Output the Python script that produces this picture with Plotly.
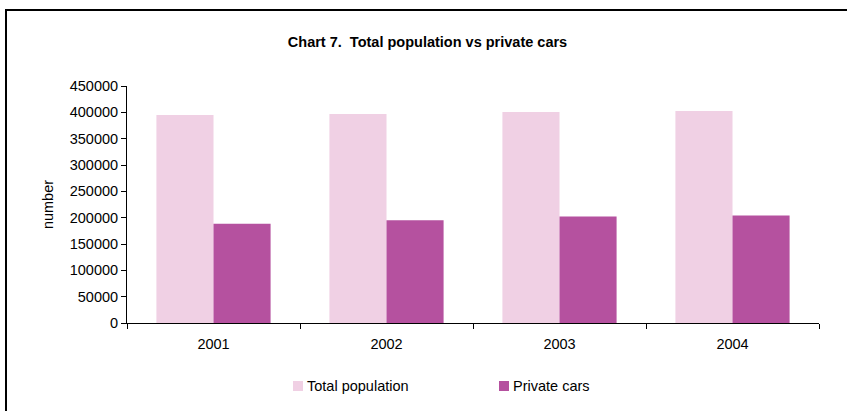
import plotly.graph_objects as go

years = ["2001", "2002", "2003", "2004"]
total_population = [395000, 397000, 400500, 402500]
private_cars = [188600, 194900, 202000, 204000]
y_ticks = [0, 50000, 100000, 150000, 200000, 250000, 300000, 350000, 400000, 450000]
series_names = ["Total population", "Private cars"]
series_colors = ["#F0D0E4", "#B5519F"]

FONT = "Liberation Sans, Arial, sans-serif"
FS = 14.5

fig = go.Figure()
fig.add_trace(go.Bar(x=years, y=total_population, name=series_names[0],
                     marker=dict(color=series_colors[0], line=dict(width=0))))
fig.add_trace(go.Bar(x=years, y=private_cars, name=series_names[1],
                     marker=dict(color=series_colors[1], line=dict(width=0))))

W, H = 847, 411
L, R, T, B = 127, 28, 86, 88
pw = W - L - R
ph = H - T - B

def px_x(px):
    return (px - L) / pw

def px_y(py):
    return (H - B - py) / ph

fig.update_layout(
    width=W, height=H,
    margin=dict(l=L, r=R, t=T, b=B, pad=0),
    paper_bgcolor="white", plot_bgcolor="white",
    font=dict(family=FONT, size=FS, color="#000000"),
    barmode="group", bargap=0.34, bargroupgap=0,
    title=dict(text="Chart 7.\u00a0 Total population vs private cars",
               font=dict(family=FONT, size=14.5, color="#000000", weight="bold"),
               x=427.5 / W, xanchor="center", y=1 - 42 / H, yanchor="middle",
               xref="container", yref="container"),
    xaxis=dict(showline=True, linecolor="#000000", linewidth=1,
               ticks="outside", tickson="boundaries", ticklen=5, tickcolor="#000000",
               showgrid=False, tickfont=dict(size=FS), ticklabelstandoff=8),
    yaxis=dict(range=[0, 450000], tickvals=y_ticks, ticktext=[str(v) for v in y_ticks],
               showline=True, linecolor="#000000", linewidth=1,
               ticks="outside", ticklen=5, tickcolor="#000000",
               showgrid=False, zeroline=False, tickfont=dict(size=FS),
               title=dict(text="number", font=dict(size=FS), standoff=12)),
    showlegend=False,
)

# outer chart frame
fig.add_shape(type="rect", xref="paper", yref="paper",
              x0=px_x(6), x1=px_x(870),
              y0=px_y(430), y1=px_y(10),
              line=dict(color="#000000", width=2), fillcolor="rgba(0,0,0,0)", layer="below")

# legend (key squares + labels)
legend_x = [293, 499]
for name, color, lx in zip(series_names, series_colors, legend_x):
    fig.add_shape(type="rect", xref="paper", yref="paper",
                  x0=px_x(lx), x1=px_x(lx + 10), y0=px_y(391), y1=px_y(381),
                  line=dict(width=0), fillcolor=color)
    fig.add_annotation(text=name, xref="paper", yref="paper",
                       x=px_x(lx + 12), y=px_y(386), xanchor="left", yanchor="middle",
                       showarrow=False, font=dict(size=FS, color="#000000"))

fig.write_html("out.html", post_script="document.body.style.margin='0';",
               config={"displayModeBar": False})
